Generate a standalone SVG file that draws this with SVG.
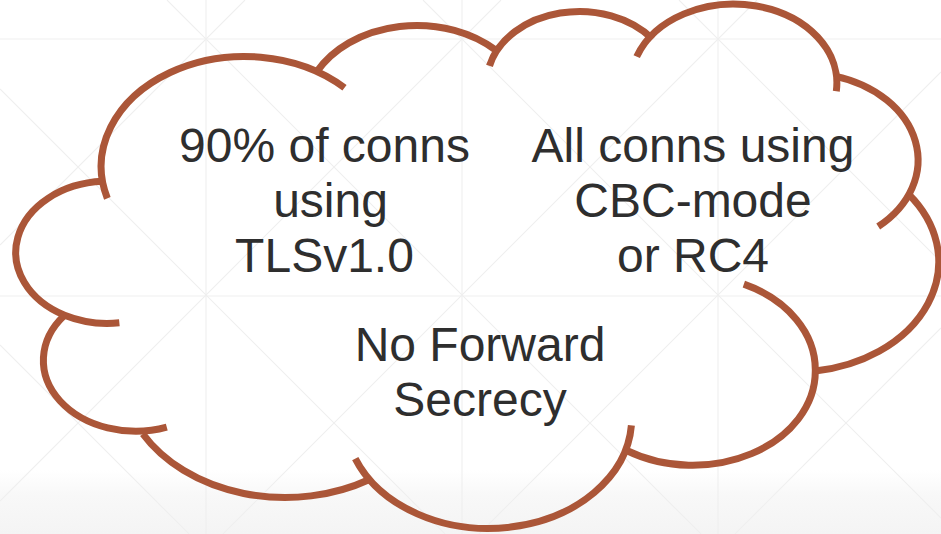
<svg xmlns="http://www.w3.org/2000/svg" width="941" height="534" viewBox="0 0 941 534">
  <defs>
    <linearGradient id="floor" x1="0" y1="0" x2="0" y2="1">
      <stop offset="0" stop-color="#f5f5f5" stop-opacity="0"/>
      <stop offset="0.4" stop-color="#f5f5f5" stop-opacity="0.7"/>
      <stop offset="1" stop-color="#f4f4f4" stop-opacity="1"/>
    </linearGradient>
    <style>
      .grid { stroke: #efefef; stroke-width: 1.1; fill: none; }
      .lobe { fill: none; stroke: #AB5638; stroke-width: 7; stroke-linecap: butt; }
      .label { font-family: "Liberation Sans", Arial, sans-serif; font-size: 48px; fill: #2e2e2e; text-anchor: middle; }
    </style>
  </defs>

  <g id="background">
    <rect x="0" y="0" width="941" height="534" fill="#ffffff"/>
    <rect x="0" y="470" width="941" height="64" fill="url(#floor)"/>
    <line class="grid" x1="206" y1="0" x2="206" y2="534"/>
    <line class="grid" x1="462" y1="0" x2="462" y2="534"/>
    <line class="grid" x1="718" y1="0" x2="718" y2="534"/>
    <line class="grid" x1="0" y1="39" x2="941" y2="39"/>
    <line class="grid" x1="0" y1="296" x2="941" y2="296"/>
    <line class="grid" x1="0" y1="345" x2="189" y2="534"/>
    <line class="grid" x1="0" y1="89" x2="445" y2="534"/>
    <line class="grid" x1="167" y1="0" x2="701" y2="534"/>
    <line class="grid" x1="423" y1="0" x2="941" y2="518"/>
    <line class="grid" x1="679" y1="0" x2="941" y2="262"/>
    <line class="grid" x1="0" y1="245" x2="245" y2="0"/>
    <line class="grid" x1="0" y1="501" x2="501" y2="0"/>
    <line class="grid" x1="223" y1="534" x2="757" y2="0"/>
    <line class="grid" x1="479" y1="534" x2="941" y2="72"/>
    <line class="grid" x1="735" y1="534" x2="941" y2="328"/>
  </g>

  <g id="cloud">
    <path class="lobe" d="M119.36,322.74 A92.18,71.18 0 0 1 64.56,315.24 A92.18,71.18 0 0 1 102.54,181.37"/>
    <path class="lobe" d="M107.35,198.36 A143.27,110.03 0 0 1 344.5,87.75"/>
    <path class="lobe" d="M316.91,71.6 A113.14,87.01 0 0 1 496.17,50.41"/>
    <path class="lobe" d="M489.5,65.83 A92.6,71.18 0 0 1 652.68,39.02"/>
    <path class="lobe" d="M636.7,56.64 A103.04,78.96 0 0 1 836.3,91.2"/>
    <path class="lobe" d="M834.7,76.1 A113.14,87.08 0 0 1 878.2,226.45"/>
    <path class="lobe" d="M908.9,194.4 A143.73,110.39 0 0 1 815.3,371"/>
    <path class="lobe" d="M743.85,284.15 A122.73,94.19 0 0 1 815.3,371 A122.73,94.19 0 0 1 626.6,450.5"/>
    <path class="lobe" d="M631.4,425.4 A143.24,110.33 0 0 1 355.26,458.62"/>
    <path class="lobe" d="M369.42,479.45 A163.78,126.23 0 0 1 142.88,434.02"/>
    <path class="lobe" d="M166.78,427.16 A92.5,70.86 0 0 1 64.56,315.24"/>
  </g>

  <g id="tls-versions">
    <text class="label" x="324.5" y="161.5">90% of conns</text>
    <text class="label" x="330.5" y="216.5">using</text>
    <text class="label" x="324.5" y="271.5">TLSv1.0</text>
  </g>

  <g id="cipher-modes">
    <text class="label" x="693" y="161.5">All conns using</text>
    <text class="label" x="693" y="216.5">CBC-mode</text>
    <text class="label" x="693" y="271.5">or RC4</text>
  </g>

  <g id="forward-secrecy">
    <text class="label" x="480" y="361">No Forward</text>
    <text class="label" x="480" y="416">Secrecy</text>
  </g>
</svg>
